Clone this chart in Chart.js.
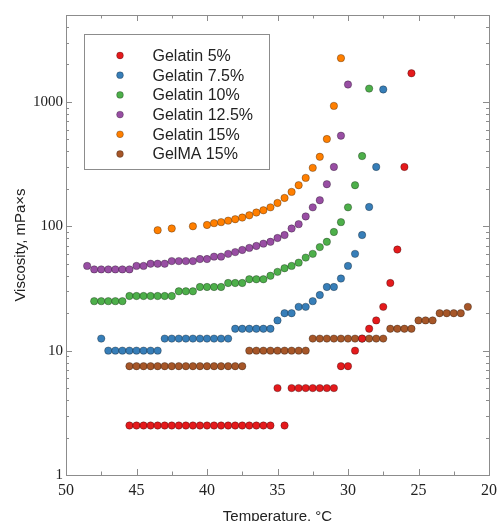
<!DOCTYPE html>
<html lang="en">
<head>
  <meta charset="UTF-8" />
  <title>Viscosity vs temperature – gelatin / GelMA</title>
  <script src="https://cdn.jsdelivr.net/npm/chart.js"></script>
  <style>
    html,body{margin:0;padding:0;background:#fff;}
    #wrap{position:relative;width:497px;height:521px;}
  </style>
</head>
<body>
<div id="wrap"><canvas id="visc" width="497" height="521"></canvas></div>

<script>
  // Series: temperature (°C) and viscosity (mPa×s)
  const labels=['Gelatin 5%','Gelatin 7.5%','Gelatin 10%','Gelatin 12.5%','Gelatin 15%','GelMA 15%'];
  const colors=['#e41a1c','#377eb8','#4daf4a','#984ea3','#ff7f00','#a65628'];

  const gel5T=[45.5,45,44.5,44,43.5,43,42.5,42,41.5,41,40.5,40,39.5,39,38.5,38,37.5,37,36.5,36,35.5,34.5,
               35,34,33.5,33,32.5,32,31.5,31,30.5,30,29.5,29,28.5,28,27.5,27,26.5,26,25.5];
  const gel5V=[2.5,2.5,2.5,2.5,2.5,2.5,2.5,2.5,2.5,2.5,2.5,2.5,2.5,2.5,2.5,2.5,2.5,2.5,2.5,2.5,2.5,2.5,
               5,5,5,5,5,5,5,5,7.5,7.5,10,12.5,15,17.5,22.5,35,65,300,1700];

  const gel75T=[47.5,47,46.5,46,45.5,45,44.5,44,43.5,43,42.5,42,41.5,41,40.5,40,39.5,39,38.5,
                38,37.5,37,36.5,36,35.5,35,34.5,34,33.5,33,32.5,32,31.5,31,30.5,30,29.5,29,28.5,28,27.5];
  const gel75V=[12.5,10,10,10,10,10,10,10,10,12.5,12.5,12.5,12.5,12.5,12.5,12.5,12.5,12.5,12.5,
                15,15,15,15,15,15,17.5,20,20,22.5,22.5,25,28,32.5,32.5,38,48,60,85,143,300,1260];

  const gel10T=[48,47.5,47,46.5,46,45.5,45,44.5,44,43.5,43,42.5,42,41.5,41,40.5,40,39.5,39,38.5,38,37.5,
                37,36.5,36,35.5,35,34.5,34,33.5,33,32.5,32,31.5,31,30.5,30,29.5,29,28.5];
  const gel10V=[25,25,25,25,25,27.5,27.5,27.5,27.5,27.5,27.5,27.5,30,30,30,32.5,32.5,32.5,32.5,35,35,35,
                37.5,37.5,37.5,40,43,46,48,51,56,60,68,75,90,108,142,214,367,1280];

  const gel125T=[48.5,48,47.5,47,46.5,46,45.5,45,44.5,44,43.5,43,42.5,42,41.5,41,40.5,40,39.5,39,38.5,38,
                 37.5,37,36.5,36,35.5,35,34.5,34,33.5,33,32.5,32,31.5,31,30.5,30];
  const gel125V=[48,45,45,45,45,45,45,48,48,50,50,50,52.5,52.5,52.5,52.5,54.5,54.5,57,57,60,62,
                 64.5,67,69.5,72.5,75,80.5,85,96,104,120,142,162,218,300,535,1380];

  const gel15T=[43.5,42.5,41,40,39.5,39,38.5,38,37.5,37,36.5,36,35.5,35,34.5,34,33.5,33,32.5,32,31.5,31,30.5];
  const gel15V=[93,96,100,102.5,106,108,111,114,117.5,122.5,129,134.5,142,154,169,189,214,245,295,362,503,929,2250];

  const gelmaT=[45.5,45,44.5,44,43.5,43,42.5,42,41.5,41,40.5,40,39.5,39,38.5,38,37.5,
                37,36.5,36,35.5,35,34.5,34,33.5,33,
                32.5,32,31.5,31,30.5,30,29.5,29,28.5,28,27.5,
                27,26.5,26,25.5,25,24.5,24,23.5,23,22.5,22,21.5];
  const gelmaV=[7.5,7.5,7.5,7.5,7.5,7.5,7.5,7.5,7.5,7.5,7.5,7.5,7.5,7.5,7.5,7.5,7.5,
                10,10,10,10,10,10,10,10,10,
                12.5,12.5,12.5,12.5,12.5,12.5,12.5,12.5,12.5,12.5,12.5,
                15,15,15,15,17.5,17.5,17.5,20,20,20,20,22.5];

  const seriesT=[gel5T,gel75T,gel10T,gel125T,gel15T,gelmaT];
  const seriesV=[gel5V,gel75V,gel10V,gel125V,gel15V,gelmaV];

  // Axis ticks
  const xTicks=[20,25,30,35,40,45,50];
  const xMinor=[22.5,27.5,32.5,37.5,42.5,47.5];
  const yTicks=[1,10,100,1000];

  const TXT='#222';
  const FRAME='#8c8c8c';

  // frame + inward tick marks on all four sides
  const frameTicks={
    id:'frameTicks',
    beforeDatasetsDraw(chart){
      const {ctx,chartArea:a,scales:{x,y}}=chart;
      ctx.save();
      ctx.strokeStyle=FRAME;ctx.lineWidth=1;
      ctx.strokeRect(a.left+.5,a.top+.5,a.right-a.left,a.bottom-a.top);
      ctx.beginPath();
      const xt=(v,len)=>{const px=Math.round(x.getPixelForValue(v))+.5;
        ctx.moveTo(px,a.bottom);ctx.lineTo(px,a.bottom-len);
        ctx.moveTo(px,a.top);ctx.lineTo(px,a.top+len);};
      xTicks.forEach(v=>xt(v,6));
      xMinor.forEach(v=>xt(v,3.5));
      const yt=(v,len)=>{const py=Math.round(y.getPixelForValue(v))+.5;
        ctx.moveTo(a.left,py);ctx.lineTo(a.left+len,py);
        ctx.moveTo(a.right,py);ctx.lineTo(a.right-len,py);};
      yTicks.forEach(v=>yt(v,6));
      yTicks.forEach(d=>{for(let m=2;m<=9;m++){const v=d*m;if(v<=y.max)yt(v,3);}});
      ctx.stroke();
      ctx.restore();
    }
  };

  // boxed legend inside the plot, upper left
  const boxLegend={
    id:'boxLegend',
    afterDraw(chart){
      const {ctx,chartArea:a}=chart;
      const bx=a.left+18.5,by=a.top+19.5,bw=185,bh=135;
      ctx.save();
      ctx.strokeStyle=FRAME;ctx.lineWidth=1;
      ctx.strokeRect(bx,by,bw,bh);
      ctx.font='16px "Liberation Sans", Arial, sans-serif';
      ctx.textBaseline='middle';ctx.textAlign='left';
      chart.data.datasets.forEach((ds,i)=>{
        const cy=by+21+i*19.7;
        ctx.beginPath();ctx.arc(bx+35.5,cy,3.4,0,Math.PI*2);
        ctx.fillStyle=ds.backgroundColor;ctx.fill();
        ctx.strokeStyle='rgba(0,0,0,.45)';ctx.lineWidth=.6;ctx.stroke();
        ctx.fillStyle=TXT;ctx.fillText(ds.label,bx+68,cy+1);
      });
      ctx.restore();
    }
  };

  new Chart(document.getElementById('visc'),{
    type:'scatter',
    data:{datasets:labels.map((l,i)=>({
      label:l,
      data:seriesT[i].map((t,j)=>({x:t,y:seriesV[i][j]})),
      backgroundColor:colors[i],
      borderColor:'rgba(0,0,0,.5)',
      borderWidth:.6,
      pointRadius:3.7
    }))},
    options:{
      responsive:false,animation:false,devicePixelRatio:1,
      layout:{padding:{top:15,right:8,left:0,bottom:0}},
      plugins:{legend:{display:false},tooltip:{enabled:false}},
      scales:{
        x:{type:'linear',min:20,max:50,reverse:true,position:'bottom',
          afterBuildTicks:s=>{s.ticks=xTicks.map(v=>({value:v}));},
          afterFit:s=>{s.height=46;},
          grid:{display:false,drawTicks:false,tickLength:0},border:{display:false},
          ticks:{font:{family:'"Liberation Serif", "Times New Roman", serif',size:16},color:TXT,padding:6,maxRotation:0,autoSkip:false},
          title:{display:true,text:'Temperature, °C',color:TXT,
            font:{family:'"Liberation Sans", Arial, sans-serif',size:15},padding:{top:0,bottom:-5}}
        },
        y:{type:'logarithmic',min:1,max:5000,
          afterBuildTicks:s=>{s.ticks=yTicks.map(v=>({value:v}));},
          afterFit:s=>{s.width=66;},
          grid:{display:false,drawTicks:false,tickLength:0},border:{display:false},
          ticks:{font:{family:'"Liberation Serif", "Times New Roman", serif',size:15},color:TXT,padding:3,
            callback:v=>String(v)},
          title:{display:true,text:'Viscosity, mPa×s',color:TXT,
            font:{family:'"Liberation Sans", Arial, sans-serif',size:15},padding:{top:12,bottom:0}}
        }
      }
    },
    plugins:[frameTicks,boxLegend]
  });
</script>
</body>
</html>
